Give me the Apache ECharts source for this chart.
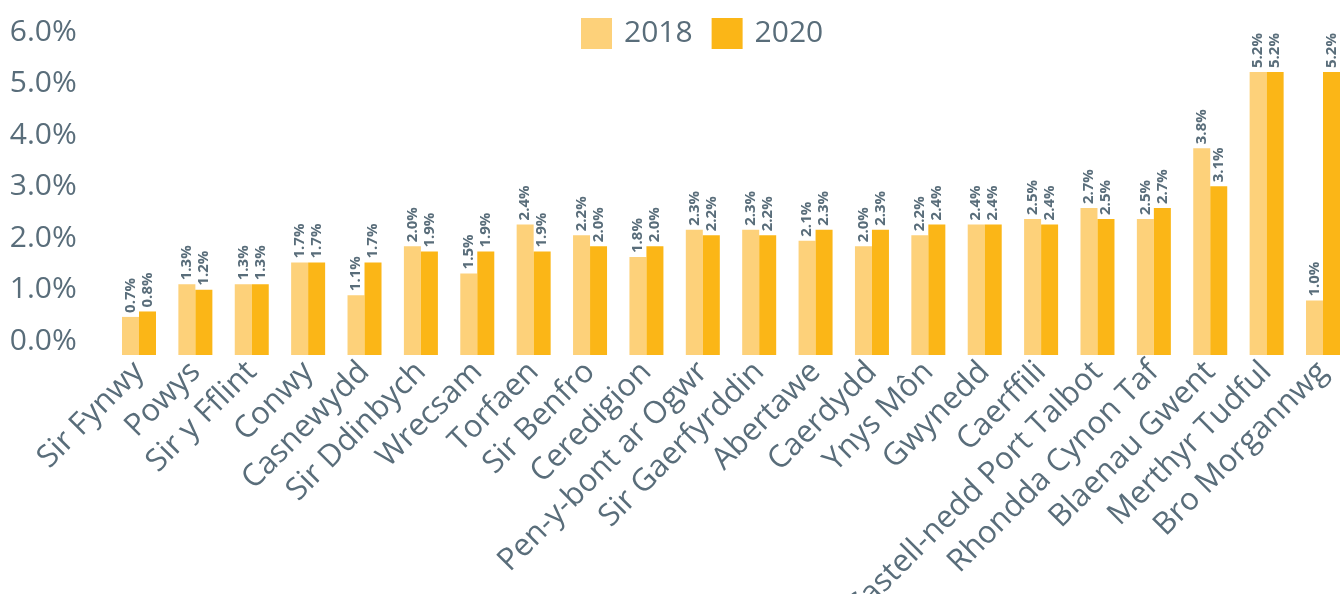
<!DOCTYPE html>
<html>
<head>
<meta charset="utf-8">
<script src="https://cdn.jsdelivr.net/npm/echarts@6/dist/echarts.min.js"></script>
<style>
  html, body { margin: 0; padding: 0; background: #fff; }
  #chart { width: 1340px; height: 594px; }
</style>
</head>
<body>
<div id="chart"></div>
<script>
const categories = [
  "Sir Fynwy", "Powys", "Sir y Fflint", "Conwy", "Casnewydd", "Sir Ddinbych",
  "Wrecsam", "Torfaen", "Sir Benfro", "Ceredigion", "Pen-y-bont ar Ogwr",
  "Sir Gaerfyrddin", "Abertawe", "Caerdydd", "Ynys Môn", "Gwynedd", "Caerffili",
  "Castell-nedd Port Talbot", "Rhondda Cynon Taf", "Blaenau Gwent",
  "Merthyr Tudful", "Bro Morgannwg"
];
const values2018 = [0.7, 1.3, 1.3, 1.7, 1.1, 2.0, 1.5, 2.4, 2.2, 1.8, 2.3, 2.3, 2.1, 2.0, 2.2, 2.4, 2.5, 2.7, 2.5, 3.8, 5.2, 1.0];
const values2020 = [0.8, 1.2, 1.3, 1.7, 1.7, 1.9, 1.9, 1.9, 2.0, 2.0, 2.2, 2.2, 2.3, 2.3, 2.4, 2.4, 2.4, 2.5, 2.7, 3.1, 5.2, 5.2];
const tickValues = [0, 1, 2, 3, 4, 5, 6];

const textColor = "#596d7a";
const font = "'Open Sans', 'Noto Sans', sans-serif";

const labelStyle = {
  show: true,
  position: "top",
  rotate: 90,
  align: "left",
  verticalAlign: "middle",
  distance: 4,
  color: textColor,
  fontFamily: font,
  fontWeight: "bold",
  fontSize: 15,
  formatter: (p) => p.value.toFixed(1) + "%",
};

const chart = echarts.init(document.getElementById("chart"));
chart.setOption({
  animation: false,
  legend: {
    top: 18,
    left: 581,
    padding: 0,
    itemWidth: 31,
    itemHeight: 31,
    itemGap: 19,
    icon: "rect",
    textStyle: {
      color: textColor,
      fontFamily: font,
      fontSize: 30,
      padding: [0, 0, 0, 7],
    },
  },
  grid: {
    left: 110.8,
    right: -11.2,
    top: 28.5,
    bottom: 239,
    containLabel: false,
    outerBoundsMode: "none",
  },
  xAxis: {
    type: "category",
    data: categories,
    axisLine: { show: false },
    axisTick: { show: false },
    axisLabel: {
      interval: 0,
      rotate: 45,
      margin: 12,
      color: textColor,
      fontFamily: font,
      fontSize: 31,
    },
  },
  yAxis: [
    {
      type: "value",
      min: 0,
      max: 6,
      axisLine: { show: false },
      axisTick: { show: false },
      axisLabel: { show: false },
      splitLine: { show: false },
    },
    {
      type: "value",
      position: "left",
      min: -0.272,
      max: 6.068,
      axisLine: { show: false },
      axisTick: { show: false },
      splitLine: { show: false },
      axisLabel: {
        customValues: tickValues,
        margin: 34,
        color: textColor,
        fontFamily: font,
        fontSize: 30,
        formatter: (v) => v.toFixed(1) + "%",
      },
    },
  ],
  series: [
    {
      name: "2018",
      type: "bar",
      yAxisIndex: 0,
      data: values2018,
      barWidth: 17,
      barGap: "0%",
      itemStyle: { color: "#fdd17a" },
      label: labelStyle,
    },
    {
      name: "2020",
      type: "bar",
      yAxisIndex: 0,
      data: values2020,
      barWidth: 17,
      barGap: "0%",
      itemStyle: { color: "#fbb617" },
      label: labelStyle,
    },
  ],
});
</script>
</body>
</html>
